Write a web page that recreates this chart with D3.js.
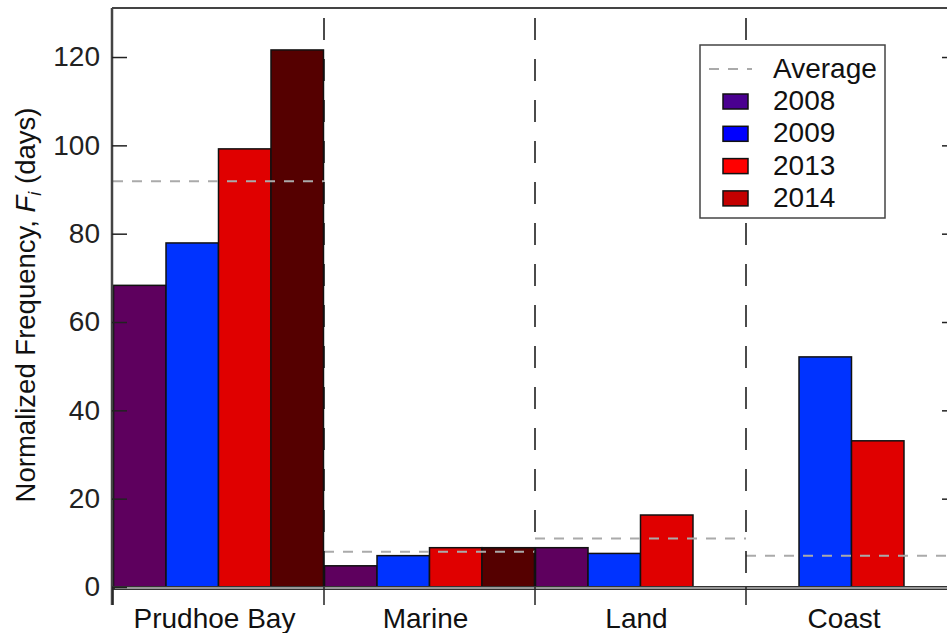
<!DOCTYPE html>
<html><head><meta charset="utf-8">
<script src="https://cdn.jsdelivr.net/npm/d3@7"></script>
<style>body{margin:0;background:#fff}svg{display:block;font-family:"Liberation Sans",Arial,sans-serif}</style>
</head><body><svg id="c" width="947" height="633"></svg>
<script>
const categories = ["Prudhoe Bay", "Marine", "Land", "Coast"];
const years = ["2008", "2009", "2013", "2014"];
const v2008 = [68.3, 4.8, 8.9, null];
const v2009 = [77.9, 7.1, 7.6, 52.1];
const v2013 = [99.2, 8.9, 16.3, 33.1];
const v2014 = [121.6, 8.9, null, null];
const averages = [91.9, 8.0, 11.0, 7.1];
const yTicks = [0, 20, 40, 60, 80, 100, 120];

const series = [v2008, v2009, v2013, v2014];
const barColors = ["#5e005e", "#0033ff", "#e00000", "#550000"];
const legendColors = ["#4a0090", "#0000ff", "#ff0000", "#c40000"];

const svg = d3.select("#c");
const L = 113, R = 957, T = 8, B = 587;
const FS = 28;
const x = d3.scaleBand().domain(categories).range([L, R]).padding(0);
const xi = d3.scaleBand().domain(years).range([0, x.bandwidth()]).paddingInner(0).paddingOuter(0.01);
const y = d3.scaleLinear().domain([0, 131.1]).range([B, T]);

// bars
series.forEach((vals, si) => {
  svg.append("g").selectAll("rect")
    .data(categories.map((c, i) => ({c, v: vals[i]})).filter(d => d.v != null))
    .join("rect")
    .attr("x", d => x(d.c) + xi(years[si]))
    .attr("y", d => y(d.v))
    .attr("width", xi.bandwidth())
    .attr("height", d => y(0) - y(d.v))
    .attr("fill", barColors[si])
    .attr("stroke", "#111").attr("stroke-width", 1.5);
});

// average lines
svg.append("g").selectAll("line").data(categories).join("line")
  .attr("x1", c => x(c)).attr("x2", c => x(c) + x.bandwidth())
  .attr("y1", (c, i) => y(averages[i])).attr("y2", (c, i) => y(averages[i]))
  .attr("stroke", "#aaa").attr("stroke-width", 2).attr("stroke-dasharray", "10,9");

// dividers
const bounds = categories.slice(1).map(c => x(c));
svg.append("g").selectAll("line").data(bounds).join("line")
  .attr("x1", d => d).attr("x2", d => d).attr("y1", 18).attr("y2", B)
  .attr("stroke", "#111").attr("stroke-width", 1.5).attr("stroke-dasharray", "22,19");

// frame
svg.append("line").attr("x1", L - 1).attr("x2", 947).attr("y1", T).attr("y2", T).attr("stroke", "#444").attr("stroke-width", 2);
svg.append("line").attr("x1", L - 1).attr("x2", L - 1).attr("y1", T).attr("y2", 605).attr("stroke", "#444").attr("stroke-width", 2.5);
svg.append("line").attr("x1", L - 1).attr("x2", 947).attr("y1", B + 1).attr("y2", B + 1).attr("stroke", "#333").attr("stroke-width", 4);
svg.append("line").attr("x1", L + 2).attr("x2", 947).attr("y1", B + 1).attr("y2", B + 1).attr("stroke", "#bbb").attr("stroke-width", 1.5);

// y axis left
const yAxis = d3.axisLeft(y).tickValues(yTicks).tickSize(-15).tickPadding(12);
const gy = svg.append("g").attr("transform", `translate(${L - 1},0)`).call(yAxis);
gy.select(".domain").remove();
gy.selectAll(".tick line").attr("stroke", "#222").attr("stroke-width", 1.5);
gy.selectAll("text").attr("font-size", FS).attr("fill", "#222").attr("font-family", "Liberation Sans, Arial, sans-serif");

// y axis right (inward ticks)
const gr = svg.append("g").attr("transform", `translate(${R},0)`).call(d3.axisRight(y).tickValues(yTicks.slice(1)).tickSize(-15).tickFormat(""));
gr.select(".domain").remove();
gr.selectAll(".tick line").attr("stroke", "#222").attr("stroke-width", 1.5);

// x axis ticks & labels
const xTicks = [L].concat(bounds);
svg.append("g").selectAll("line").data(xTicks).join("line")
  .attr("x1", d => d).attr("x2", d => d).attr("y1", B).attr("y2", 605)
  .attr("stroke", "#222").attr("stroke-width", 1.5);
svg.append("g").selectAll("text").data(categories).join("text")
  .attr("x", c => Math.min(x(c) + x.bandwidth() / 2, 848) - 4)
  .attr("y", 628).attr("text-anchor", "middle").attr("font-size", FS).attr("fill", "#111")
  .text(c => c);

// y label
const yl = svg.append("text").attr("transform", "translate(35,305) rotate(-90)")
  .attr("text-anchor", "middle").attr("font-size", 27.5).attr("fill", "#111");
yl.append("tspan").text("Normalized Frequency, ");
yl.append("tspan").attr("font-style", "italic").text("F");
yl.append("tspan").attr("font-style", "italic").attr("font-size", 18).attr("dy", 6).text("i");
yl.append("tspan").attr("dy", -6).text(" (days)");

// legend
const lg = svg.append("g");
lg.append("rect").attr("x", 700).attr("y", 45).attr("width", 185).attr("height", 173)
  .attr("fill", "#fff").attr("stroke", "#444").attr("stroke-width", 1.5);
lg.append("line").attr("x1", 709).attr("x2", 752).attr("y1", 69).attr("y2", 69)
  .attr("stroke", "#aaa").attr("stroke-width", 2).attr("stroke-dasharray", "10,9");
lg.append("text").attr("x", 773).attr("y", 78).attr("font-size", FS).attr("fill", "#111").text("Average");
years.forEach((yr, i) => {
  const cy = 101 + i * 32.3;
  lg.append("rect").attr("x", 723).attr("y", cy - 7).attr("width", 25).attr("height", 15)
    .attr("fill", legendColors[i]).attr("stroke", "#111").attr("stroke-width", 1.5);
  lg.append("text").attr("x", 773).attr("y", cy + 9).attr("font-size", FS).attr("fill", "#111").text(yr);
});
</script></body></html>
